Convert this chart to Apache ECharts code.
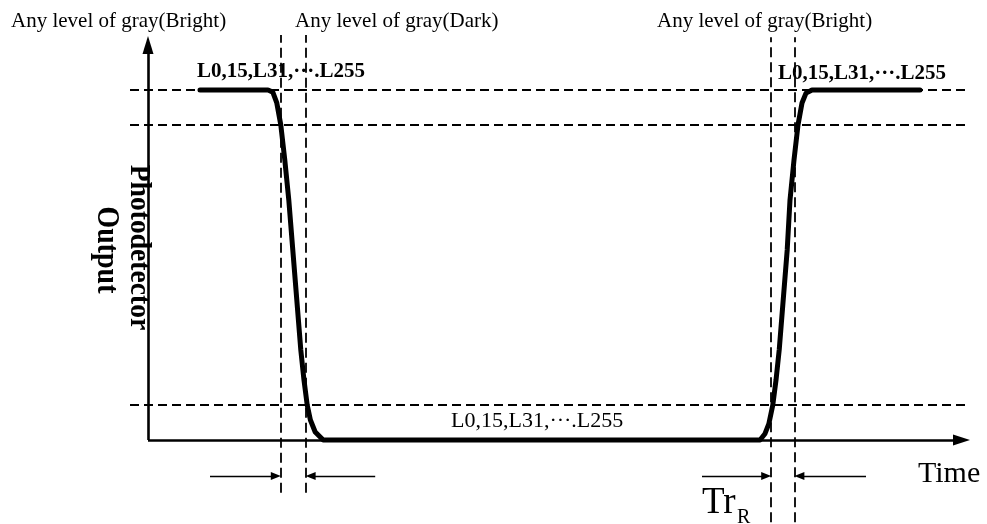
<!DOCTYPE html>
<html><head><meta charset="utf-8">
<script src="https://cdn.jsdelivr.net/npm/echarts@6/dist/echarts.min.js"></script>
<style>html,body{margin:0;padding:0;background:#fff}#c{width:987px;height:524px}</style>
</head><body><div id="c"></div>
<script>
// ---- data (time in arbitrary units, output in % of bright level) ----
const waveTime   = [6.5, 15.0, 15.6, 16.1, 16.6, 17.1, 17.6, 18.1, 18.6, 19.1, 19.5, 19.9, 20.3, 20.9, 21.9,
                    76.5, 77.1, 77.6, 78.1, 78.5, 78.9, 79.4, 79.9, 80.25, 80.75, 81.25, 81.75, 82.25, 83.0, 96.5];
const waveOutput = [100, 100, 99.4, 96.3, 90, 80, 68.6, 54.3, 40, 25.7, 17.1, 10, 5.7, 2.3, 0,
                    0, 1.7, 4.6, 10, 17.1, 25.7, 40, 54.3, 68.6, 80, 90, 96.3, 99.1, 100, 100];
const thresholdLevels = [100, 90, 10];
const thresholdSpan = [-2.25, 102.75];
const fallMarks = [16.6, 19.7];
const fallSpan = [-15.1, 115.7];
const riseMarks = [77.9, 80.8];
const riseSpan = [-23.5, 115.1];
const arrowLevel = -10.3;
const arrowPairs = [[7.75, 16.6], [28.4, 19.7], [69.25, 77.9], [89.75, 80.8]]; // [tail, tip]
const axisTip = { time: 102.75, output: 115.4 };
const levelLabel = 'L0,15,L31,\u00B7\u00B7\u00B7.L255';

// ---- layout ----
const X_MIN = -6, X_MAX = 103, Y_MIN = -24, Y_MAX = 116;
const G = { left: 100, right: 15, top: 34, bottom: 0 };
const pxX = (987 - G.left - G.right) / (X_MAX - X_MIN);
const pxY = (524 - G.top - G.bottom) / (Y_MAX - Y_MIN);
const serif = '"Liberation Serif","Times New Roman",serif';

const dashStyle = { color: '#000', width: 1.8, type: [9, 5] };
const markLines = [];
thresholdLevels.forEach(v => markLines.push([
  { coord: [thresholdSpan[0], v], symbol: 'none', lineStyle: dashStyle },
  { coord: [thresholdSpan[1], v], symbol: 'none' }]));
fallMarks.forEach(t => markLines.push([
  { coord: [t, fallSpan[0]], symbol: 'none', lineStyle: { color: '#000', width: 1.8, type: [10, 5] } },
  { coord: [t, fallSpan[1]], symbol: 'none' }]));
riseMarks.forEach(t => markLines.push([
  { coord: [t, riseSpan[0]], symbol: 'none', lineStyle: { color: '#000', width: 1.8, type: [10, 5] } },
  { coord: [t, riseSpan[1]], symbol: 'none' }]));
// axes drawn as arrows
const yHead = 18, xHead = 17;
markLines.push([
  { coord: [0, 0], symbol: 'none', lineStyle: { color: '#000', width: 2.6, type: 'solid' } },
  { coord: [0, axisTip.output - yHead / 2 / pxY], symbol: 'triangle', symbolSize: [11, yHead] }]);
markLines.push([
  { coord: [0, 0], symbol: 'none', lineStyle: { color: '#000', width: 2.6, type: 'solid' } },
  { coord: [axisTip.time - xHead / 2 / pxX, 0], symbol: 'triangle', symbolSize: [11, xHead] }]);
const aHead = 10;
arrowPairs.forEach(([tail, tip]) => {
  const dir = Math.sign(tip - tail);
  markLines.push([
    { coord: [tail, arrowLevel], symbol: 'none', lineStyle: { color: '#000', width: 1.3, type: 'solid' } },
    { coord: [tip - dir * aHead / 2 / pxX, arrowLevel], symbol: 'triangle', symbolSize: [8, aHead] }]);
});

function txt(text, x, y, size, opts) {
  opts = opts || {};
  return {
    type: 'text', x: x, y: y, rotation: opts.rot || 0, scaleX: opts.sx || 1, z: 1,
    style: {
      text: text, fill: '#000',
      font: (opts.bold ? 'bold ' : '') + size + 'px ' + serif,
      textAlign: opts.align || 'left', textVerticalAlign: 'middle'
    }
  };
}

const chart = echarts.init(document.getElementById('c'));
chart.setOption({
  animation: false,
  backgroundColor: '#fff',
  grid: { left: G.left, right: G.right, top: G.top, bottom: G.bottom },
  xAxis: { type: 'value', min: X_MIN, max: X_MAX, show: false },
  yAxis: { type: 'value', min: Y_MIN, max: Y_MAX, show: false },
  graphic: [
    txt('Any level of gray(Bright)', 11, 21.6, 21),
    txt('Any level of gray(Dark)', 295, 21.6, 21),
    txt('Any level of gray(Bright)', 657, 21.6, 21),
    txt(levelLabel, 197, 72, 21, { bold: true }),
    txt(levelLabel, 778, 73.5, 21, { bold: true }),
    txt(levelLabel, 451, 421, 22),
    txt('Time', 918, 474, 30),
    txt('Tr', 702, 503.7, 37),
    txt('R', 737, 518, 20),
    txt('Photodetector', 139, 247.5, 30, { rot: -Math.PI / 2, align: 'center', bold: true, sx: 0.92 }),
    txt('Output', 106, 250, 31, { rot: -Math.PI / 2, align: 'center', bold: true, sx: 0.9 })
  ],
  series: [{
    type: 'line',
    data: waveTime.map((t, i) => [t, waveOutput[i]]),
    symbol: 'none',
    z: 5,
    lineStyle: { color: '#000', width: 5, cap: 'round', join: 'round' },
    markLine: { silent: true, symbol: 'none', label: { show: false }, animation: false, data: markLines }
  }]
});
</script></body></html>
